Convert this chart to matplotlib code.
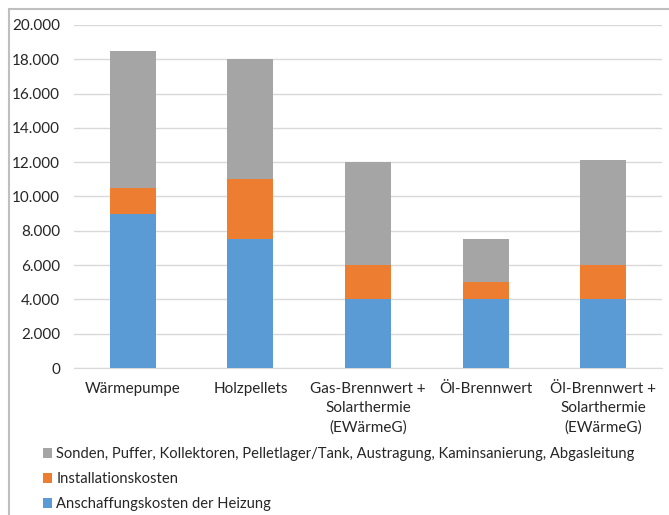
import matplotlib.pyplot as plt
import matplotlib.ticker as mticker
from matplotlib.patches import Rectangle

# Kosten je Heizsystem (EUR)
kategorien = ['Wärmepumpe', 'Holzpellets', 'Gas-Brennwert +\nSolarthermie\n(EWärmeG)',
              'Öl-Brennwert', 'Öl-Brennwert +\nSolarthermie\n(EWärmeG)']
anschaffung = [9000, 7500, 4000, 4000, 4000]
installation = [1500, 3500, 2000, 1000, 2000]
sonstiges = [8000, 7000, 6000, 2500, 6100]

labels = ['Anschaffungskosten der Heizung', 'Installationskosten',
          'Sonden, Puffer, Kollektoren, Pelletlager/Tank, Austragung, Kaminsanierung, Abgasleitung']
farben = ['#5B9BD5', '#ED7D31', '#A5A5A5']

plt.rcParams['font.family'] = ['Lato', 'DejaVu Sans']
plt.rcParams['font.size'] = 11

fig = plt.figure(figsize=(6.69, 5.15), dpi=100)
W, H = 669, 515
ax = fig.add_axes([74 / W, 1 - 368 / H, (662 - 74) / W, (368 - 25) / H])

# Rahmen um das Diagramm
fig.patches.append(Rectangle((9 / W, -0.1), 1.2, 1 - 9 / H + 0.1, transform=fig.transFigure,
                             fill=False, edgecolor='#BFBFBF', linewidth=1.5))

x = range(len(kategorien))
b1 = ax.bar(x, anschaffung, width=0.39, color=farben[0], zorder=3)
unten = anschaffung
b2 = ax.bar(x, installation, width=0.39, bottom=unten, color=farben[1], zorder=3)
unten = [a + b for a, b in zip(anschaffung, installation)]
b3 = ax.bar(x, sonstiges, width=0.39, bottom=unten, color=farben[2], zorder=3)

ax.set_xlim(-0.5, len(kategorien) - 0.5)
ax.set_ylim(0, 20000)
ax.set_yticks(range(0, 20001, 2000))
ax.yaxis.set_major_formatter(mticker.FuncFormatter(lambda v, p: f'{int(v):,}'.replace(',', '.')))
ax.set_xticks(list(x))
ax.set_xticklabels(kategorien, linespacing=1.45, color='#262626')
ax.tick_params(axis='y', colors='#262626', length=0, pad=10)
ax.tick_params(axis='x', length=0, pad=10)
ax.grid(axis='y', color='#D9D9D9', linewidth=1, zorder=0)
for s in ['top', 'right', 'left']:
    ax.spines[s].set_visible(False)
ax.spines['bottom'].set_color('#D9D9D9')

fig.legend([b3, b2, b1], labels[::-1], loc='upper left', bbox_to_anchor=(30 / W, 1 - 434 / H),
           frameon=False, handlelength=0.6, handleheight=0.6, handletextpad=0.3,
           labelspacing=0.75, fontsize=10.6, labelcolor='#262626')

fig.savefig('out.png', dpi=100)
